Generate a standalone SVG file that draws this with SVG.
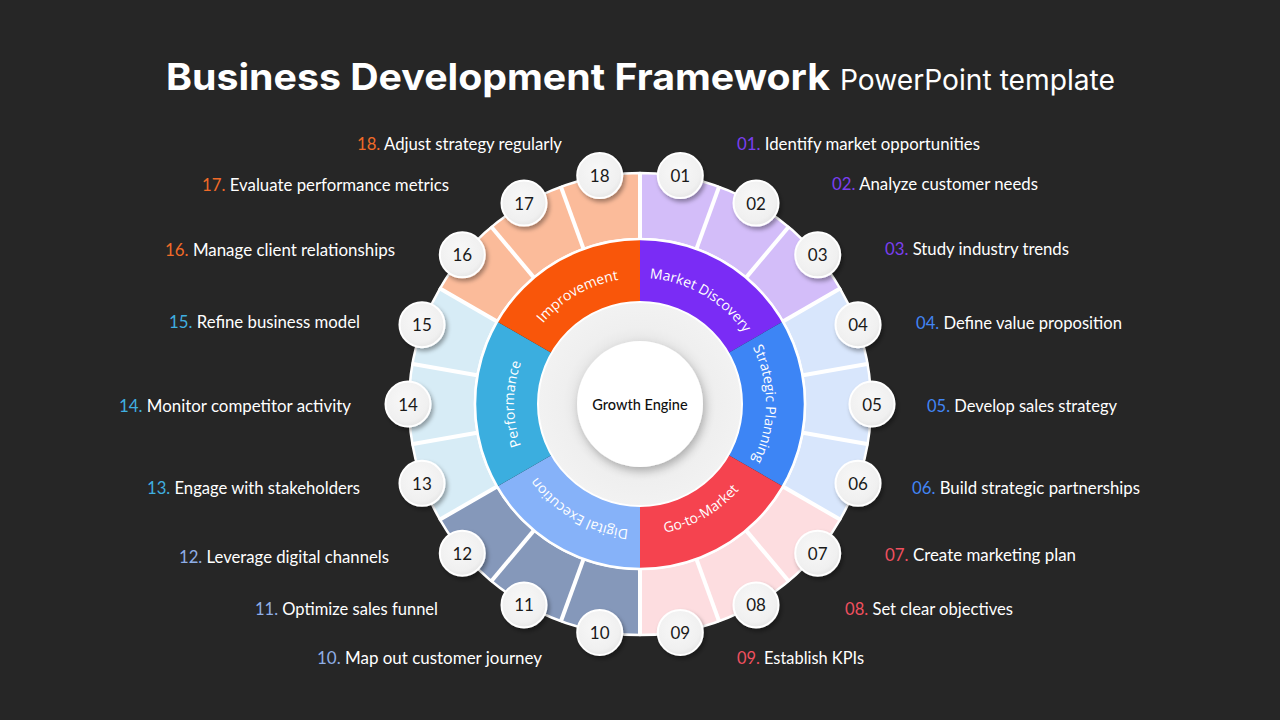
<svg xmlns="http://www.w3.org/2000/svg" width="1280" height="720" viewBox="0 0 1280 720">
<defs>
<style>
.lbl{font-family:Lato,"Open Sans","Liberation Sans",sans-serif;font-size:17px;fill:#ffffff}
.num{font-family:Lato,"Open Sans","Liberation Sans",sans-serif;font-size:17px;fill:#1a1a1a;text-anchor:middle;dominant-baseline:central}
.cat{font-family:"Open Sans","Liberation Sans",sans-serif;font-size:14px;fill:#ffffff;text-anchor:middle}
.bub{fill:url(#bubG);stroke:#ffffff;stroke-width:2;filter:url(#sh)}
.sep{stroke:#ffffff;stroke-width:4}
.oseg{stroke:#ffffff;stroke-width:2.5;stroke-linejoin:round}
.c1{fill:#7B3FF0}.c2{fill:#4285F4}.c3{fill:#F0505F}.c4{fill:#8FAEE6}.c5{fill:#40AFE0}.c6{fill:#F06A28}
</style>
<radialGradient id="bubG" cx="0.45" cy="0.4" r="0.65">
<stop offset="0" stop-color="#F8F8F8"/>
<stop offset="0.75" stop-color="#F0F0F0"/>
<stop offset="1" stop-color="#E2E2E2"/>
</radialGradient>
<radialGradient id="grayG" cx="0.5" cy="0.5" r="0.5">
<stop offset="0.6" stop-color="#E6E6E6"/>
<stop offset="0.75" stop-color="#EFEFEF"/>
<stop offset="1" stop-color="#F2F2F2"/>
</radialGradient>
<filter id="sh" x="-40%" y="-40%" width="180%" height="180%">
<feDropShadow dx="2" dy="3" stdDeviation="2" flood-color="#000" flood-opacity="0.35"/>
</filter>
<filter id="sh2" x="-30%" y="-30%" width="160%" height="160%">
<feDropShadow dx="2" dy="4" stdDeviation="4" flood-color="#000" flood-opacity="0.25"/>
</filter>
<path id="pMD" d="M 607.39 282.29 A 126 126 0 0 1 761.71 371.39"/>
<path id="pSP" d="M 729.10 314.90 A 126 126 0 0 1 729.10 493.10"/>
<path id="pGM" d="M 606.09 530.54 A 131 131 0 0 0 766.54 437.91"/>
<path id="pDE" d="M 672.61 525.71 A 126 126 0 0 1 518.29 436.61"/>
<path id="pPF" d="M 550.90 493.10 A 126 126 0 0 1 550.90 314.90"/>
<path id="pIM" d="M 518.29 371.39 A 126 126 0 0 1 672.61 282.29"/>
<line id="sepL" x1="640" y1="240" x2="640" y2="172"/>
</defs>
<rect width="1280" height="720" fill="#262626"/>

<g id="title">
<text x="166" y="90" textLength="664" lengthAdjust="spacingAndGlyphs" style="font-family:Inter,'Open Sans','Liberation Sans',sans-serif;font-weight:700;font-size:37px;fill:#fff">Business Development Framework</text>
<text x="840" y="90" textLength="275" lengthAdjust="spacingAndGlyphs" style="font-family:Inter,'Open Sans','Liberation Sans',sans-serif;font-weight:400;font-size:28px;fill:#fff">PowerPoint template</text>
</g>

<g id="outer-ring">
<path class="oseg" fill="#D3BDF9" d="M 640 173 A 231 231 0 0 1 840.05 288.5 L 782.89 321.5 A 165 165 0 0 0 640 239 Z"/>
<path class="oseg" fill="#D8E6FC" d="M 840.05 288.5 A 231 231 0 0 1 840.05 519.5 L 782.89 486.5 A 165 165 0 0 0 782.89 321.5 Z"/>
<path class="oseg" fill="#FDDDE0" d="M 840.05 519.5 A 231 231 0 0 1 640 635 L 640 569 A 165 165 0 0 0 782.89 486.5 Z"/>
<path class="oseg" fill="#8598BA" d="M 640 635 A 231 231 0 0 1 439.95 519.5 L 497.11 486.5 A 165 165 0 0 0 640 569 Z"/>
<path class="oseg" fill="#D7ECF6" d="M 439.95 519.5 A 231 231 0 0 1 439.95 288.5 L 497.11 321.5 A 165 165 0 0 0 497.11 486.5 Z"/>
<path class="oseg" fill="#FBBB9A" d="M 439.95 288.5 A 231 231 0 0 1 640 173 L 640 239 A 165 165 0 0 0 497.11 321.5 Z"/>
<g class="sep">
<use href="#sepL"/>
<use href="#sepL" transform="rotate(20 640 404)"/>
<use href="#sepL" transform="rotate(40 640 404)"/>
<use href="#sepL" transform="rotate(60 640 404)"/>
<use href="#sepL" transform="rotate(80 640 404)"/>
<use href="#sepL" transform="rotate(100 640 404)"/>
<use href="#sepL" transform="rotate(120 640 404)"/>
<use href="#sepL" transform="rotate(140 640 404)"/>
<use href="#sepL" transform="rotate(160 640 404)"/>
<use href="#sepL" transform="rotate(180 640 404)"/>
<use href="#sepL" transform="rotate(200 640 404)"/>
<use href="#sepL" transform="rotate(220 640 404)"/>
<use href="#sepL" transform="rotate(240 640 404)"/>
<use href="#sepL" transform="rotate(260 640 404)"/>
<use href="#sepL" transform="rotate(280 640 404)"/>
<use href="#sepL" transform="rotate(300 640 404)"/>
<use href="#sepL" transform="rotate(320 640 404)"/>
<use href="#sepL" transform="rotate(340 640 404)"/>
</g>
</g>

<g id="cat-market-discovery">
<path fill="#7A2CF5" d="M 640 239 A 165 165 0 0 1 782.89 321.5 L 728.33 353 A 102 102 0 0 0 640 302 Z"/>
<text class="cat"><textPath href="#pMD" startOffset="50%">Market Discovery</textPath></text>
</g>
<g id="cat-strategic-planning">
<path fill="#3D85F5" d="M 782.89 321.5 A 165 165 0 0 1 782.89 486.5 L 728.33 455 A 102 102 0 0 0 728.33 353 Z"/>
<text class="cat"><textPath href="#pSP" startOffset="50%">Strategic Planning</textPath></text>
</g>
<g id="cat-go-to-market">
<path fill="#F5434F" d="M 782.89 486.5 A 165 165 0 0 1 640 569 L 640 506 A 102 102 0 0 0 728.33 455 Z"/>
<text class="cat"><textPath href="#pGM" startOffset="50%">Go-to-Market</textPath></text>
</g>
<g id="cat-digital-execution">
<path fill="#86B2F9" d="M 640 569 A 165 165 0 0 1 497.11 486.5 L 551.67 455 A 102 102 0 0 0 640 506 Z"/>
<text class="cat"><textPath href="#pDE" startOffset="50%">Digital Execution</textPath></text>
</g>
<g id="cat-performance">
<path fill="#3BAEDF" d="M 497.11 486.5 A 165 165 0 0 1 497.11 321.5 L 551.67 353 A 102 102 0 0 0 551.67 455 Z"/>
<text class="cat"><textPath href="#pPF" startOffset="50%">Performance</textPath></text>
</g>
<g id="cat-improvement">
<path fill="#F9560A" d="M 497.11 321.5 A 165 165 0 0 1 640 239 L 640 302 A 102 102 0 0 0 551.67 353 Z"/>
<text class="cat"><textPath href="#pIM" startOffset="50%">Improvement</textPath></text>
</g>
<circle cx="640" cy="404" r="165" fill="none" stroke="#ffffff" stroke-width="2.5"/>

<g id="growth-engine">
<circle cx="640" cy="404" r="102" fill="url(#grayG)" stroke="#ffffff" stroke-width="2"/>
<circle cx="640" cy="404" r="63" fill="#ffffff" filter="url(#sh2)"/>
<text x="640" y="404" style="font-family:Lato,'Open Sans','Liberation Sans',sans-serif;font-size:14.5px;font-weight:500;fill:#111;text-anchor:middle;dominant-baseline:central">Growth Engine</text>
</g>

<g id="step-01"><circle class="bub" cx="680.29" cy="175.52" r="22.5"/><text class="num" x="680.29" y="175.52">01</text>
<text class="lbl" x="737" y="150" textLength="243" lengthAdjust="spacingAndGlyphs"><tspan class="c1">01. </tspan>Identify market opportunities</text></g>
<g id="step-02"><circle class="bub" cx="756" cy="203.08" r="22.5"/><text class="num" x="756" y="203.08">02</text>
<text class="lbl" x="832" y="190" textLength="206" lengthAdjust="spacingAndGlyphs"><tspan class="c1">02. </tspan>Analyze customer needs</text></g>
<g id="step-03"><circle class="bub" cx="817.72" cy="254.87" r="22.5"/><text class="num" x="817.72" y="254.87">03</text>
<text class="lbl" x="885" y="255" textLength="184" lengthAdjust="spacingAndGlyphs"><tspan class="c1">03. </tspan>Study industry trends</text></g>
<g id="step-04"><circle class="bub" cx="858.01" cy="324.65" r="22.5"/><text class="num" x="858.01" y="324.65">04</text>
<text class="lbl" x="916" y="329" textLength="206" lengthAdjust="spacingAndGlyphs"><tspan class="c2">04. </tspan>Define value proposition</text></g>
<g id="step-05"><circle class="bub" cx="872" cy="404" r="22.5"/><text class="num" x="872" y="404">05</text>
<text class="lbl" x="927" y="412" textLength="190" lengthAdjust="spacingAndGlyphs"><tspan class="c2">05. </tspan>Develop sales strategy</text></g>
<g id="step-06"><circle class="bub" cx="858.01" cy="483.35" r="22.5"/><text class="num" x="858.01" y="483.35">06</text>
<text class="lbl" x="912" y="494" textLength="228" lengthAdjust="spacingAndGlyphs"><tspan class="c2">06. </tspan>Build strategic partnerships</text></g>
<g id="step-07"><circle class="bub" cx="817.72" cy="553.13" r="22.5"/><text class="num" x="817.72" y="553.13">07</text>
<text class="lbl" x="885" y="561" textLength="191" lengthAdjust="spacingAndGlyphs"><tspan class="c3">07. </tspan>Create marketing plan</text></g>
<g id="step-08"><circle class="bub" cx="756" cy="604.92" r="22.5"/><text class="num" x="756" y="604.92">08</text>
<text class="lbl" x="845" y="615" textLength="168" lengthAdjust="spacingAndGlyphs"><tspan class="c3">08. </tspan>Set clear objectives</text></g>
<g id="step-09"><circle class="bub" cx="680.29" cy="632.48" r="22.5"/><text class="num" x="680.29" y="632.48">09</text>
<text class="lbl" x="737" y="664" textLength="127" lengthAdjust="spacingAndGlyphs"><tspan class="c3">09. </tspan>Establish KPIs</text></g>
<g id="step-10"><circle class="bub" cx="599.71" cy="632.48" r="22.5"/><text class="num" x="599.71" y="632.48">10</text>
<text class="lbl" x="317" y="664" textLength="225" lengthAdjust="spacingAndGlyphs"><tspan class="c4">10. </tspan>Map out customer journey</text></g>
<g id="step-11"><circle class="bub" cx="524" cy="604.92" r="22.5"/><text class="num" x="524" y="604.92">11</text>
<text class="lbl" x="255" y="615" textLength="183" lengthAdjust="spacingAndGlyphs"><tspan class="c4">11. </tspan>Optimize sales funnel</text></g>
<g id="step-12"><circle class="bub" cx="462.28" cy="553.13" r="22.5"/><text class="num" x="462.28" y="553.13">12</text>
<text class="lbl" x="179" y="563" textLength="210" lengthAdjust="spacingAndGlyphs"><tspan class="c4">12. </tspan>Leverage digital channels</text></g>
<g id="step-13"><circle class="bub" cx="421.99" cy="483.35" r="22.5"/><text class="num" x="421.99" y="483.35">13</text>
<text class="lbl" x="147" y="494" textLength="213" lengthAdjust="spacingAndGlyphs"><tspan class="c5">13. </tspan>Engage with stakeholders</text></g>
<g id="step-14"><circle class="bub" cx="408" cy="404" r="22.5"/><text class="num" x="408" y="404">14</text>
<text class="lbl" x="119" y="412" textLength="232" lengthAdjust="spacingAndGlyphs"><tspan class="c5">14. </tspan>Monitor competitor activity</text></g>
<g id="step-15"><circle class="bub" cx="421.99" cy="324.65" r="22.5"/><text class="num" x="421.99" y="324.65">15</text>
<text class="lbl" x="169" y="328" textLength="191" lengthAdjust="spacingAndGlyphs"><tspan class="c5">15. </tspan>Refine business model</text></g>
<g id="step-16"><circle class="bub" cx="462.28" cy="254.87" r="22.5"/><text class="num" x="462.28" y="254.87">16</text>
<text class="lbl" x="165" y="256" textLength="230" lengthAdjust="spacingAndGlyphs"><tspan class="c6">16. </tspan>Manage client relationships</text></g>
<g id="step-17"><circle class="bub" cx="524" cy="203.08" r="22.5"/><text class="num" x="524" y="203.08">17</text>
<text class="lbl" x="202" y="191" textLength="247" lengthAdjust="spacingAndGlyphs"><tspan class="c6">17. </tspan>Evaluate performance metrics</text></g>
<g id="step-18"><circle class="bub" cx="599.71" cy="175.52" r="22.5"/><text class="num" x="599.71" y="175.52">18</text>
<text class="lbl" x="357" y="150" textLength="205" lengthAdjust="spacingAndGlyphs"><tspan class="c6">18. </tspan>Adjust strategy regularly</text></g>
</svg>
